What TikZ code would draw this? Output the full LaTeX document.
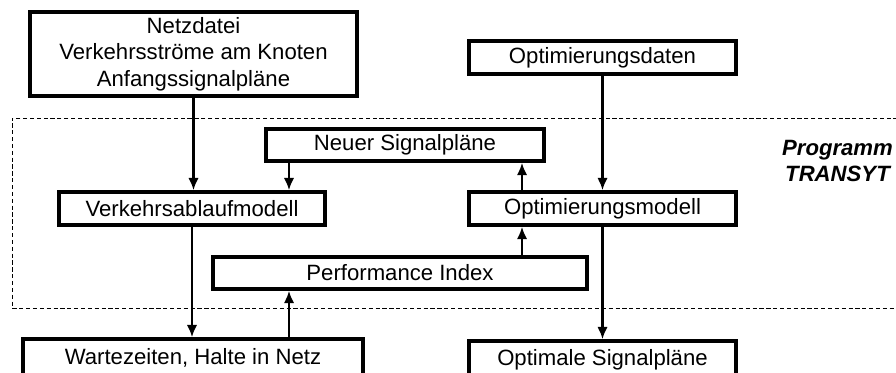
\documentclass[tikz,border=0pt]{standalone}
\usepackage{fontspec}
\setmainfont{Liberation Sans}
\usetikzlibrary{arrows.meta}

\begin{document}
\begin{tikzpicture}[
			scale=1.0,
			font=\fontsize{12.6}{15.2}\selectfont,
			block/.style={rectangle,draw=black,fill=white,line width=1.9pt,
			inner sep=0pt,minimum height=6.6mm,align=center},
			flow/.style={>={Latex[length=2.5mm,width=2.1mm]},draw=black,line width=1.5pt,->},
			frame/.style={draw=black,line width=0.5pt,dash pattern=on 2.4pt off 1.5pt}
			]
			\useasboundingbox (0,0) rectangle (17.92,-7.44);
			\draw[frame] (18.5,-2.36) -- (0.24,-2.36) -- (0.24,-6.16) -- (18.5,-6.16);
			\node[font=\fontsize{12.6}{15.2}\selectfont\bfseries\itshape, align=center] (prog) at (16.75,-3.22) {Programm\\TRANSYT};
			\node[block, minimum width=65.4mm, minimum height=16.8mm] (netz) at (3.87,-1.08)
				{Netzdatei\\Verkehrsstr\"ome am Knoten\\Anfangssignalpl\"ane};
			\node[block, minimum width=53.4mm] (daten) at (12.05,-1.15) {Optimierungsdaten};
			\node[block, minimum width=55.6mm, minimum height=6.4mm] (neu) at (8.10,-2.90) {Neuer Signalpl\"ane};
			\node[block, minimum width=53.2mm] (vam) at (3.84,-4.17) {Verkehrsablaufmodell};
			\node[block, minimum width=53.4mm] (optm) at (12.05,-4.17) {Optimierungsmodell};
			\node[block, minimum width=74.8mm, minimum height=6.4mm] (pi) at (8.00,-5.46) {Performance Index};
			\node[block, minimum width=68mm, minimum height=7.6mm] (wart) at (3.86,-7.16) {Wartezeiten, Halte in Netz};
			\node[block, minimum width=53.4mm, minimum height=7.6mm] (optsp) at (12.05,-7.20) {Optimale Signalpl\"ane};
			% columns of the feedback loop
			\coordinate (lx) at (5.78,0);
			\coordinate (rx) at (10.44,0);
			\draw[flow] (netz.south) -- (netz.south |- vam.north);
			\draw[flow] (neu.south -| lx) -- (vam.north -| lx);
			\draw[flow] (daten.south) -- (optm.north);
			\draw[flow] (optm.north -| rx) -- (neu.south -| rx);
			\draw[flow] (vam.south) -- (vam.south |- wart.north);
			\draw[flow] (wart.north -| lx) -- (pi.south -| lx);
			\draw[flow] (pi.north -| rx) -- (optm.south -| rx);
			\draw[flow] (optm.south) -- (optsp.north);
		\end{tikzpicture}
\end{document}
